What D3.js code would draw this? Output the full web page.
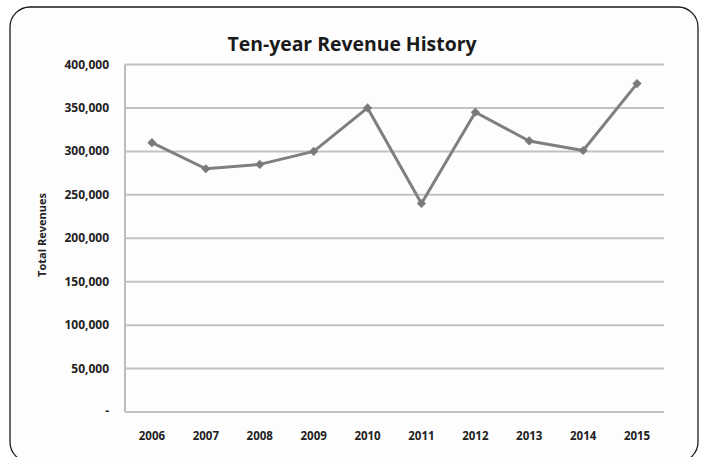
<!DOCTYPE html>
<html><head><meta charset="utf-8">
<script src="https://cdn.jsdelivr.net/npm/d3@7"></script>
<style>html,body{margin:0;padding:0;background:#fff;}svg{display:block;}</style>
</head><body>
<svg id="chart" width="702" height="457"></svg>
<script>
const years = ["2006","2007","2008","2009","2010","2011","2012","2013","2014","2015"];
const revenues = [310000, 280000, 285000, 300000, 350000, 240000, 345000, 312000, 301000, 378000];
const yTicks = [0, 50000, 100000, 150000, 200000, 250000, 300000, 350000, 400000];
const chartTitle = "Ten-year Revenue History";
const yAxisTitle = "Total Revenues";

const svg = d3.select("#chart");
const font = "'Open Sans', 'Liberation Sans', sans-serif";

// frame
svg.append("rect").attr("x",10).attr("y",7).attr("width",688).attr("height",455)
  .attr("rx",20).attr("ry",20).attr("fill","#fdfdfd").attr("stroke","#1a1a1a").attr("stroke-width",1.3);

const plot = {left:125, right:664, top:64.5, bottom:412};
const x = d3.scaleBand().domain(years).range([plot.left, plot.right]);
const y = d3.scaleLinear().domain([0,400000]).range([plot.bottom, plot.top]);

// gridlines
svg.append("g").selectAll("line").data(yTicks).join("line")
  .attr("x1",plot.left).attr("x2",plot.right)
  .attr("y1",d=>y(d)).attr("y2",d=>y(d))
  .attr("stroke","#c2c2c2").attr("stroke-width",2);
// left axis line
svg.append("line").attr("x1",plot.left).attr("x2",plot.left).attr("y1",plot.top).attr("y2",plot.bottom)
  .attr("stroke","#bdbdbd").attr("stroke-width",2);

// y tick labels
const fmt = d => d === 0 ? "-" : d3.format(",")(d);
svg.append("g").selectAll("text").data(yTicks).join("text")
  .attr("x", 109).attr("y", d=>y(d)+ (d===0?3:4))
  .attr("text-anchor","end").attr("font-family",font).attr("font-weight","bold")
  .attr("font-size",12).attr("fill","#222").text(fmt);

// x labels
svg.append("g").selectAll("text").data(years).join("text")
  .attr("x", d=>x(d)+x.bandwidth()/2).attr("y", 440)
  .attr("text-anchor","middle").attr("font-family",font).attr("font-weight","bold")
  .attr("font-size",11.5).attr("fill","#222").text(d=>d);

// title
svg.append("text").attr("x",352).attr("y",51).attr("text-anchor","middle")
  .attr("font-family",font).attr("font-weight","bold").attr("font-size",19)
  .attr("textLength",249).attr("lengthAdjust","spacingAndGlyphs")
  .attr("fill","#1a1a1a").text(chartTitle);

// y axis title
svg.append("text").attr("transform","translate(46,235) rotate(-90)").attr("text-anchor","middle")
  .attr("font-family",font).attr("font-weight","bold").attr("font-size",11)
  .attr("fill","#222").text(yAxisTitle);

// line
const data = years.map((yr,i)=>({yr, v:revenues[i]}));
const line = d3.line().x(d=>x(d.yr)+x.bandwidth()/2).y(d=>y(d.v));
svg.append("path").datum(data).attr("d",line).attr("fill","none")
  .attr("stroke","#7f7f7f").attr("stroke-width",3).attr("stroke-linejoin","round");
svg.append("g").selectAll("path").data(data).join("path")
  .attr("d", d3.symbol().type(d3.symbolSquare).size(42))
  .attr("transform", d=>`translate(${x(d.yr)+x.bandwidth()/2},${y(d.v)}) rotate(45)`)
  .attr("fill","#7a7a7a");
</script>
</body></html>
